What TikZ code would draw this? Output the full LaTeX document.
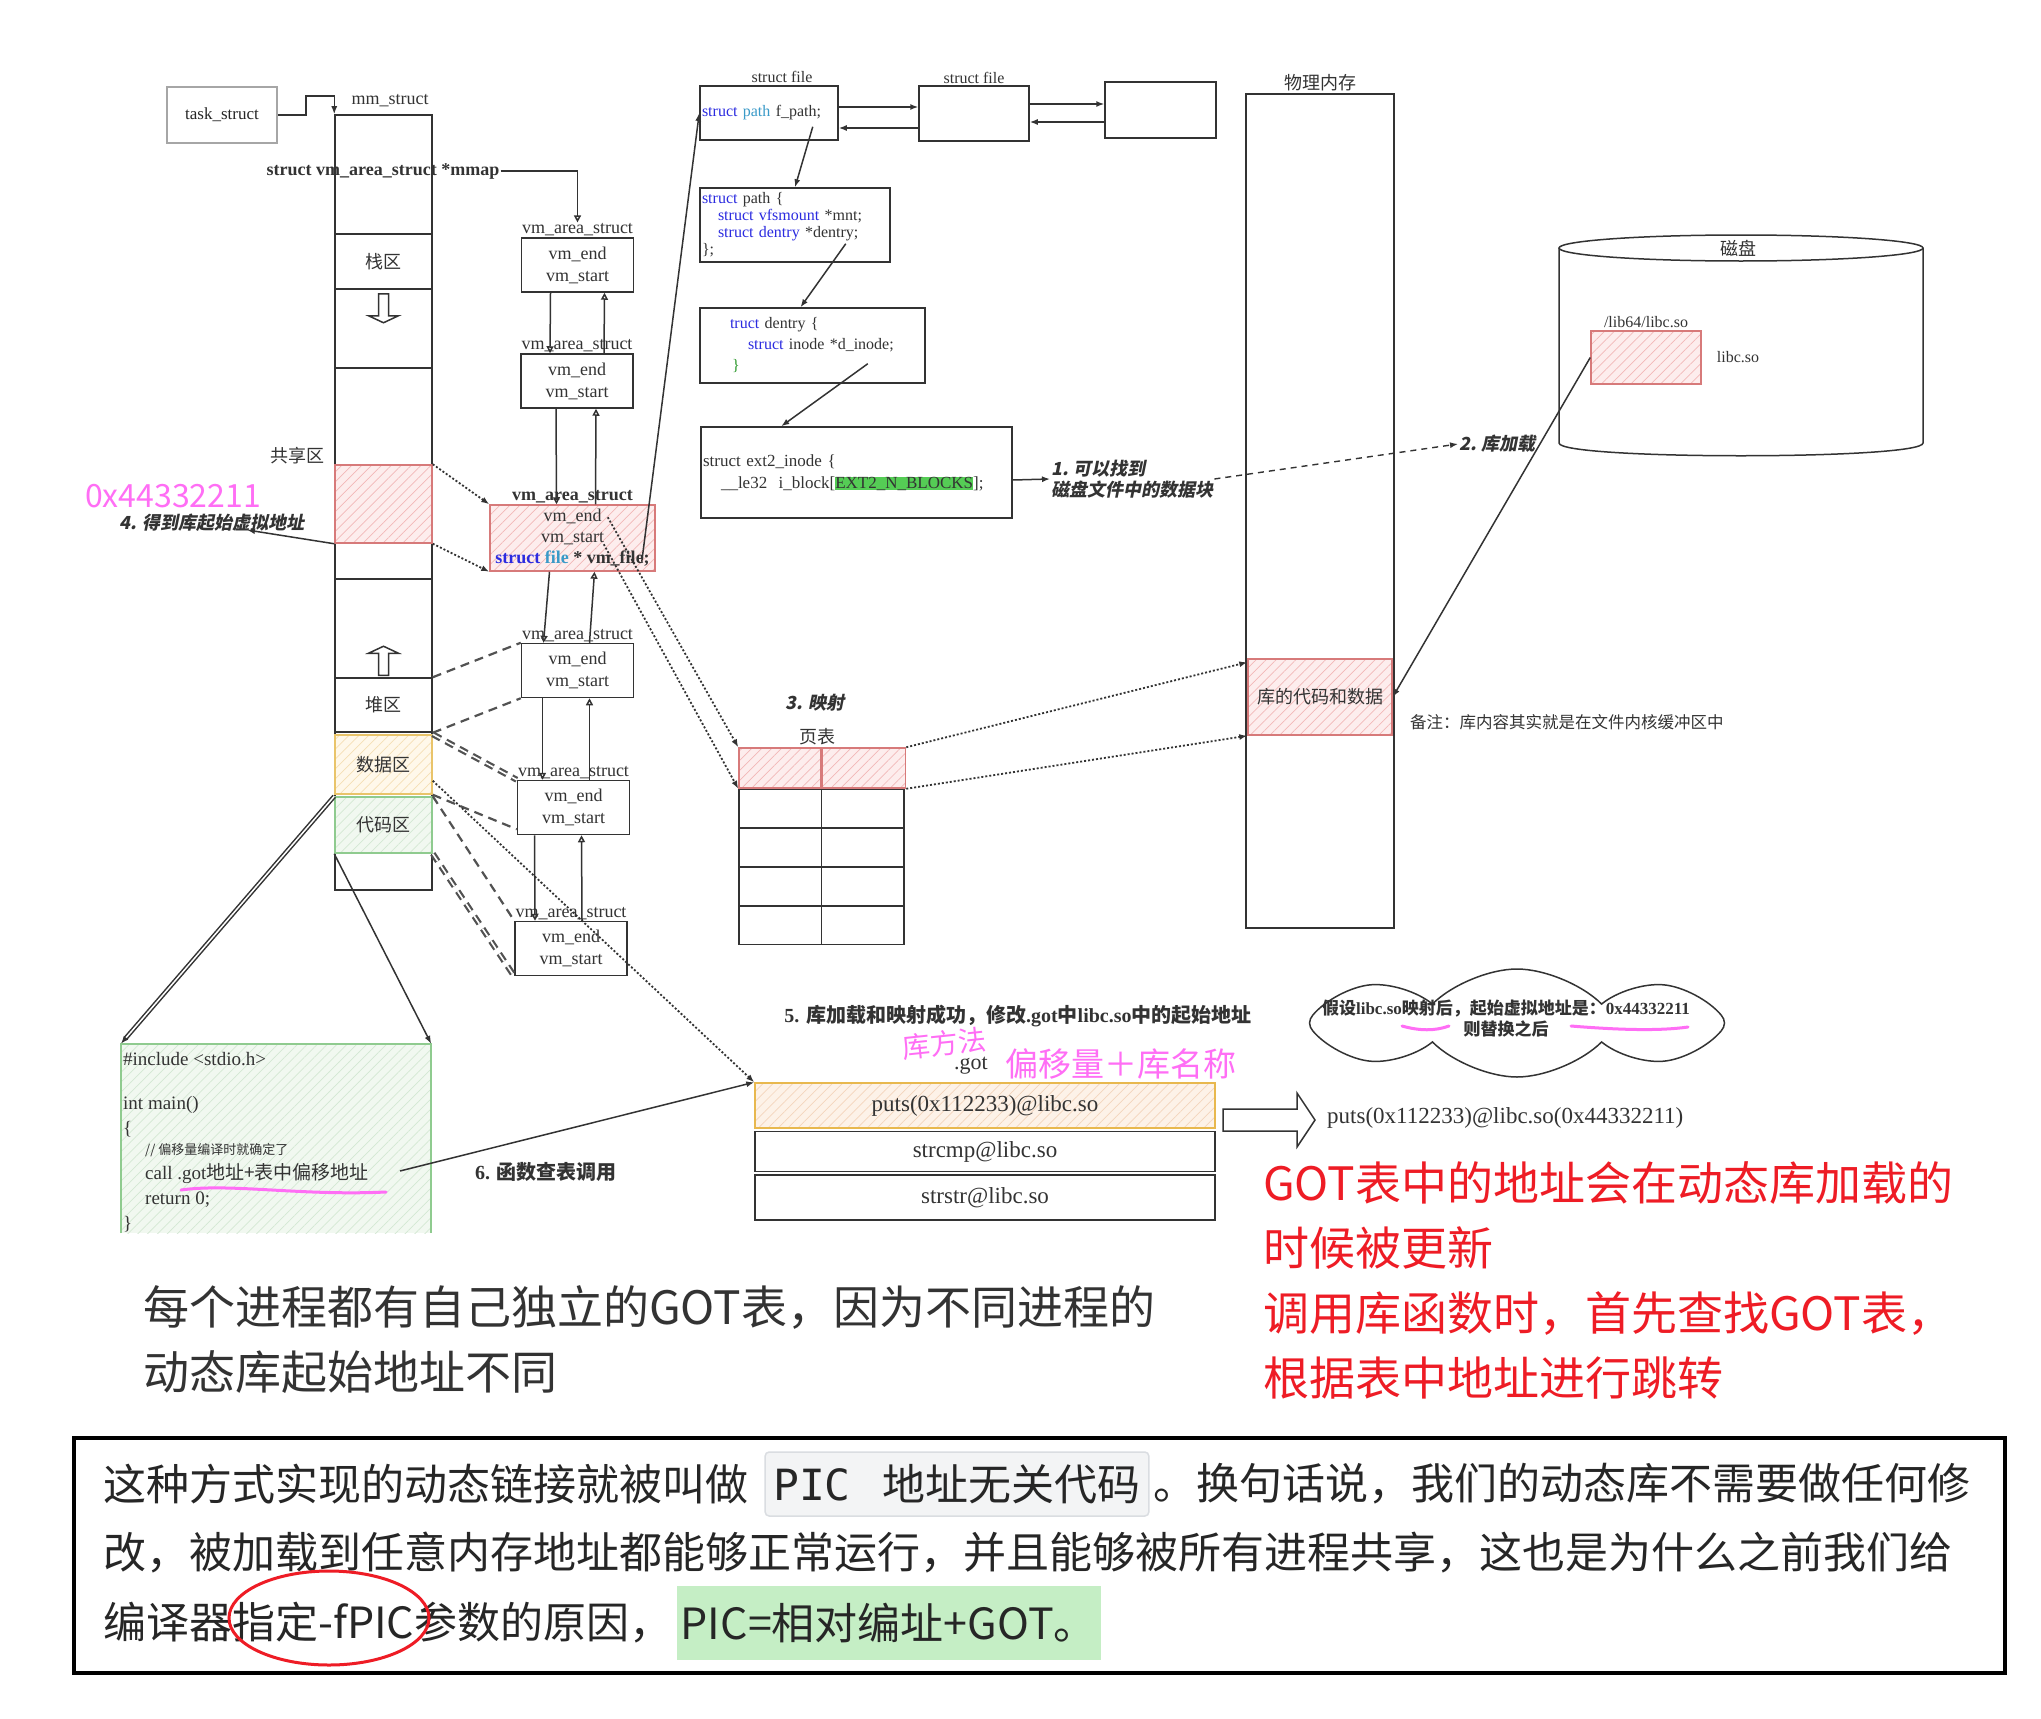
\documentclass[tikz,border=0pt]{standalone}
\usepackage{fontspec}
\usepackage{tikz}
\usetikzlibrary{arrows.meta,positioning,calc,patterns.meta,shapes.symbols}
\setmainfont{Liberation Serif}
\newfontfamily\cjk{Noto Sans CJK SC}
\newfontfamily\cjkslant{Noto Sans CJK SC}[FakeSlant=0.2]
\newfontfamily\monofont{DejaVu Sans Mono}
\newcommand\fsz[2]{\fontsize{#1}{#2}\selectfont}
\definecolor{inkline}{HTML}{333333}
\definecolor{redline}{HTML}{D77A7A}
\definecolor{redfill}{HTML}{FDEDED}
\definecolor{redhatch}{HTML}{F2B8B8}
\definecolor{yelline}{HTML}{E9C46A}
\definecolor{yelfill}{HTML}{FFF8EA}
\definecolor{yelhatch}{HTML}{F5DFB5}
\definecolor{grnline}{HTML}{8FCB8F}
\definecolor{grnfill}{HTML}{F1F8F0}
\definecolor{grnhatch}{HTML}{D3E8D3}
\definecolor{orgline}{HTML}{E8B84E}
\definecolor{orgfill}{HTML}{FDF2E8}
\definecolor{orghatch}{HTML}{F4D5BC}
\definecolor{kwblue}{HTML}{2B2BE0}
\definecolor{kwcyan}{HTML}{3A9AC8}
\definecolor{pinkpen}{HTML}{FF6EF5}
\definecolor{redpen}{HTML}{EE1C25}
\definecolor{hlgreen}{HTML}{55CC55}
\definecolor{hlpale}{HTML}{C5EEC5}
\definecolor{codebg}{HTML}{F3F4F5}
\definecolor{codeframe}{HTML}{DADDE1}
\definecolor{bracegreen}{HTML}{2E9A2E}

\begin{document}
\begin{tikzpicture}[
  x=1pt, y=-1pt,
  inkline,
  box/.style={draw=inkline, line width=1.5pt, inner sep=2pt, align=center},
  hatchfill/.style={preaction={fill=#1fill},
                    pattern={Lines[angle=45,distance=7pt,line width=0.7pt]},
                    pattern color=#1hatch},
  hatch/.style={hatchfill=#1, draw=#1line, line width=1.5pt},
  seg/.style={box, minimum width=97pt, inner sep=0pt, font=\cjk\fsz{18}{22}},
  vma/.style={box, minimum width=112pt, minimum height=54pt, font=\fsz{18}{22}},
  ttl/.style={inner sep=1pt, font=\fsz{18}{20}},
  lbl/.style={inner sep=1pt, font=\cjk\fsz{18}{22}},
  bi/.style={inner sep=1pt, align=left, font=\cjkslant\bfseries\fsz{18}{21}},
  para/.style={inner sep=0pt, text=black!85, font=\cjk\fsz{43}{48}},
  arr/.style={-{Latex[length=8pt,width=6pt]}, line width=1.5pt},
  link/.style={-{Triangle[open,length=7pt,width=7pt]}, line width=1.5pt},
  dots/.style={-{Latex[length=8pt,width=6pt]}, line width=1.8pt,
               dash pattern=on 2pt off 2pt},
  dashln/.style={line width=2.2pt, dash pattern=on 9pt off 6pt, inkline!85},
  dbldash/.style={dashln, double=white, double distance=1.6pt},
  dasharr/.style={-{Latex[length=8pt,width=6pt]}, line width=1.4pt,
                  dash pattern=on 6pt off 5pt},
  hollow/.style={draw=inkline, line width=1.5pt, fill=white},
  pen/.style={pinkpen, line width=3pt, line cap=round}
]
\fill[white] (0,0) rectangle (2041,1718);
\useasboundingbox (0,0) rectangle (2041,1718);

% ---- process address space ----
\node[box, draw=gray!70, text=gray!30!black, minimum width=110pt, minimum height=56pt,
      font=\fsz{17}{20}] (task) at (222,115) {task\_struct};
\node[box, minimum width=97pt, minimum height=775pt, inner sep=0pt] (mm) at (383.5,502.5) {};
\node[ttl] (mmlbl) at (390,101) {mm\_struct};
\node[ttl, font=\bfseries\fsz{18}{20}] (mmap) at (383,171) {struct vm\_area\_struct *mmap};

\node[seg, minimum height=55pt] (stack) at (383.5,261.5) {栈区};
\node[seg, minimum height=211pt] (shmem) at (383.5,473.5) {};
\node[seg, hatch=red, minimum height=78pt] (shared) at (383.5,504) {};
\node[lbl, anchor=east] (sharedlbl) at (326,456) {共享区};
\node[seg, minimum height=54pt] (heap) at (383.5,705) {堆区};
\node[seg, hatch=yel, minimum height=59pt] (data) at (383.5,764.5) {数据区};
\node[seg, hatch=grn, minimum height=56pt] (code) at (383.5,825) {代码区};

\node[inner sep=0pt, pinkpen, font=\cjk\fsz{32}{34}] (addr) at (173,496) {0x44332211};
\node[bi] (getaddr) at (212,523) {4. 得到库起始虚拟地址};

% stack / heap growth
\draw[hollow] ($(stack.south)+(-5,4)$) -- ++(0,22) -- ++(-10,0) -- ++(15,7)
  -- ++(15,-7) -- ++(-10,0) -- ++(0,-22) -- cycle;
\draw[hollow] ($(heap.north)+(-5,-2)$) -- ++(0,-22) -- ++(-10,0) -- ++(15,-7)
  -- ++(15,7) -- ++(-10,0) -- ++(0,22) -- cycle;

% ---- vm_area_struct chain ----
\node[vma] (vma1) at (577.5,265) {vm\_end\\vm\_start};
\node[ttl, above=0pt of vma1] (vma1t) {vm\_area\_struct};
\node[vma] (vma2) at (577,381) {vm\_end\\vm\_start};
\node[ttl, above=0pt of vma2] (vma2t) {vm\_area\_struct};
\node[vma, hatch=red, minimum width=165pt, minimum height=66pt, font=\fsz{18}{21}] (vma3) at (572.5,538)
  {vm\_end\\vm\_start\\\textbf{\color{kwblue}struct \color{kwcyan}file \color{inkline}* vm\_file;}};
\node[ttl, font=\bfseries\fsz{18}{20}, above=0pt of vma3] (vma3t) {vm\_area\_struct};
\node[vma] (vma4) at (577.5,670.5) {vm\_end\\vm\_start};
\node[ttl, above=0pt of vma4] (vma4t) {vm\_area\_struct};
\node[vma] (vma5) at (573.5,807.5) {vm\_end\\vm\_start};
\node[ttl, above=0pt of vma5] (vma5t) {vm\_area\_struct};
\node[vma] (vma6) at (571,948.5) {vm\_end\\vm\_start};
\node[ttl, above=0pt of vma6] (vma6t) {vm\_area\_struct};

% ---- file structures ----
\node[box, minimum width=138pt, minimum height=54pt, text width=134pt, align=left,
      font=\fsz{16}{18}] (sfile1) at (769,113)
  {\color{kwblue}struct \color{kwcyan}path \color{inkline}f\_path;};
\node[ttl, font=\fsz{16}{18}] (sfile1t) at (782,77) {struct file};
\node[box, minimum width=110pt, minimum height=55pt] (sfile2) at (974,113.5) {};
\node[ttl, font=\fsz{16}{18}, above=0pt of sfile2] (sfile2t) {struct file};
\node[box, minimum width=111pt, minimum height=56pt] (sfile3) at (1160.5,110) {};

\node[box, minimum width=190pt, minimum height=74pt, text width=186pt, align=left,
      font=\fsz{16}{17}] (spath) at (795,225)
  {{\color{kwblue}struct} path \{\\
   \hspace*{16pt}{\color{kwblue}struct vfsmount} *mnt;\\
   \hspace*{16pt}{\color{kwblue}struct dentry} *dentry;\\
   \};};
\node[box, minimum width=225pt, minimum height=75pt, text width=221pt, align=left,
      font=\fsz{16}{21}] (sdentry) at (812.5,345.5)
  {\hspace*{28pt}{\color{kwblue}truct} dentry \{\\
   \hspace*{46pt}{\color{kwblue}struct} inode *d\_inode;\\
   \hspace*{30pt}{\color{bracegreen}\}}};
\node[box, minimum width=311pt, minimum height=91pt, text width=307pt, align=left,
      font=\fsz{17}{22}] (sext2) at (856.5,472.5)
  {struct ext2\_inode \{\\
   \hspace*{18pt}\_\_le32\ \ i\_block[{\setlength{\fboxsep}{0pt}\colorbox{hlgreen}{EXT2\_N\_BLOCKS}}];\\[8pt]};
\node[bi, anchor=west] (find) at (1050,479) {1. 可以找到\\磁盘文件中的数据块};
\node[bi, anchor=west] (load) at (1458,444) {2. 库加载};

% ---- physical memory and disk ----
\node[box, minimum width=148pt, minimum height=834pt] (phys) at (1320,511) {};
\node[lbl, above=1pt of phys] (physlbl) {物理内存};
\node[seg, hatch=red, minimum width=144pt, minimum height=76pt] (libcode) at (1320,697) {库的代码和数据};
\node[inner sep=0pt, anchor=west, font=\cjk\fsz{16.5}{18}] (memo) at (1410,722)
  {备注：库内容其实就是在文件内核缓冲区中};

\draw[line width=1.5pt] (1741,248) ellipse [x radius=182, y radius=13];
\draw[line width=1.5pt] (1559,248) -- (1559,443)
  .. controls (1559,460) and (1923,460) .. (1923,443) -- (1923,248);
\node[lbl] (disklbl) at (1738,248) {磁盘};
\node[box, hatch=red, minimum width=110pt, minimum height=53pt] (libso) at (1646,357.5) {};
\node[ttl, font=\fsz{16}{18}, above=1pt of libso] (libpath) {/lib64/libc.so};
\node[ttl, font=\fsz{16}{18}, right=14pt of libso] (libname) {libc.so};

% ---- page table ----
\node[bi] (maplbl) at (815,703) {3. 映射};
\node[box, hatch=red, minimum width=82pt, minimum height=40pt, inner sep=0pt] (pt1) at (780,768) {};
\node[box, hatch=red, minimum width=83pt, minimum height=40pt, inner sep=0pt, right=0pt of pt1] (pt2) {};
\node[box, minimum width=165pt, minimum height=155pt, inner sep=0pt, anchor=north west] (ptbody)
  at (pt1.south west) {};
\node[lbl] (ptlbl) at (817,737) {页表};
\draw[line width=1.5pt] (ptbody.north) -- (ptbody.south);
\draw[line width=1.5pt] ($(ptbody.north west)!0.25!(ptbody.south west)$) -- ($(ptbody.north east)!0.25!(ptbody.south east)$);
\draw[line width=1.5pt] ($(ptbody.north west)!0.5!(ptbody.south west)$) -- ($(ptbody.north east)!0.5!(ptbody.south east)$);
\draw[line width=1.5pt] ($(ptbody.north west)!0.75!(ptbody.south west)$) -- ($(ptbody.north east)!0.75!(ptbody.south east)$);

% ---- .got table ----
\node[ttl, font=\bfseries\fsz{20}{22}] (fixlbl) at (1018,1016)
  {5. {\cjk 库加载和映射成功，修改}.got{\cjk 中}libc.so{\cjk 中的起始地址}};
\node[ttl, font=\fsz{22}{24}] (gotlbl) at (971,1066) {.got};
\node[inner sep=0pt, pinkpen, rotate=6, font=\cjk\fsz{28}{30}] (pinka) at (944,1043) {库方法};
\node[inner sep=0pt, pinkpen, font=\cjk\fsz{33}{35}] (pinkb) at (1121,1064) {偏移量＋库名称};
\node[box, hatch=org, minimum width=460pt, minimum height=45pt, font=\fsz{23}{25}] (got1) at (985,1105.5)
  {puts(0x112233)@libc.so};
\node[box, minimum width=460pt, minimum height=40pt, font=\fsz{23}{25}, below=2pt of got1] (got2) {strcmp@libc.so};
\node[box, minimum width=460pt, minimum height=45pt, font=\fsz{23}{25}, below=2pt of got2] (got3) {strstr@libc.so};

\node[cloud, cloud puffs=8, cloud puff arc=90, draw=inkline, line width=1.5pt,
      minimum width=415pt, minimum height=108pt, inner sep=0pt] (cloud) at (1517,1023) {};
\node[align=center, inner sep=0pt, font=\bfseries\fsz{17}{21}] (cloudtxt) at (1506,1019)
  {{\cjk 假设}libc.so{\cjk 映射后，起始虚拟地址是：}0x44332211\\{\cjk 则替换之后}};
\node[inner sep=0pt, anchor=west, font=\fsz{23}{25}] (gotres) at (1327,1118)
  {puts(0x112233)@libc.so(0x44332211)};
\draw[hollow] ($(gotres.west)+(-104,-9)$) -- ++(74,0) -- ++(0,-16) -- ++(18,27)
  -- ++(-18,27) -- ++(0,-16) -- ++(-74,0) -- cycle;

% ---- source code ----
\node[hatchfill=grn, minimum width=310pt, minimum height=189pt, inner sep=0pt] (codebox) at (276,1138.5) {};
\draw[grnline, line width=1.5pt] (codebox.south west) -- (codebox.north west)
  -- (codebox.north east) -- (codebox.south east);
\node[anchor=north west, align=left, inner sep=0pt, font=\fsz{19}{25}] (codetxt) at (123,1052)
  {\#include <stdio.h>\\[19pt]
   int main()\\
   \{\\[-5pt]
   \hspace*{22pt}{\cjk\fsz{13}{16}// 偏移量编译时就确定了}\\
   \hspace*{22pt}call .got{\cjk 地址+表中偏移地址}\\
   \hspace*{22pt}return 0;\\
   \}};
\coordinate (callend) at (400,1171);
\node[ttl, font=\bfseries\fsz{20}{22}] (calllbl) at (546,1172) {6. {\cjk 函数查表调用}};
\draw[pen] (181,1190) .. controls (230,1183) and (300,1196) .. (386,1192);
\draw[pen] (1402,1026) .. controls (1420,1031) and (1435,1031) .. (1449,1026);
\draw[pen] (1571,1026) .. controls (1620,1030) and (1660,1031) .. (1688,1027);

% ---- handwritten notes ----
\node[anchor=west, align=left, inner sep=0pt, font=\cjk\fsz{46}{65}] (bnote) at (143,1340)
  {每个进程都有自己独立的GOT表，因为不同进程的\\动态库起始地址不同};
\node[anchor=west, align=left, inner sep=0pt, redpen, font=\cjk\fsz{46}{65}] (rnote) at (1263,1280)
  {GOT表中的地址会在动态库加载的\\时候被更新\\调用库函数时，首先查找GOT表，\\根据表中地址进行跳转};

% ---- summary paragraph ----
\node[draw=black, line width=4.5pt, minimum width=1931pt, minimum height=235pt, inner sep=0pt] (summary)
  at (1039.5,1555.5) {};
\node[para, anchor=west] (l1a) at (103,1484) {这种方式实现的动态链接就被叫做};
\node[para, fill=codebg, draw=codeframe, line width=1.5pt, rounded corners=4pt, minimum height=64pt,
      inner xsep=8pt, right=16pt of l1a] (picbox) {{\monofont PIC}\hspace{32pt}地址无关代码};
\node[para, right=4pt of picbox] (l1b) {。换句话说，我们的动态库不需要做任何修};
\node[para, anchor=west] (l2) at (103,1553)
  {改，被加载到任意内存地址都能够正常运行，并且能够被所有进程共享，这也是为什么之前我们给};
\node[para, anchor=west] (l3a) at (103,1623) {编译器指定-fPIC参数的原因，};
\node[para, fill=hlpale, minimum height=74pt, inner xsep=4pt, right=4pt of l3a] (l3b) {PIC=相对编址+GOT。};
\draw[redpen, line width=3pt] (329,1618) ellipse [x radius=100, y radius=47];

% arrows
\draw[arr] (task.east) -- ++(28,0) |- ($(mm.north west)+(0,-18)$) -- (mm.north west);
\draw[link] (mmap.east) -| (vma1t.north);
\draw[link] ($(vma1.south)+(-27,0)$) -- ($(vma2.north)+(-27,0)$);
\draw[link] ($(vma2.north)+(27,0)$) -- ($(vma1.south)+(27,0)$);
\draw[link] ($(vma2.south)+(-21,0)$) -- ($(vma3.north)+(-16,0)$);
\draw[link] ($(vma3.north)+(23,0)$) -- ($(vma2.south)+(19,0)$);
\draw[link] ($(vma3.south)+(-23,0)$) -- ($(vma4.north)+(-34,0)$);
\draw[link] ($(vma4.north)+(12,0)$) -- ($(vma3.south)+(22,0)$);
\draw[link] ($(vma4.south)+(-35,0)$) -- ($(vma5.north)+(-31,0)$);
\draw[link] ($(vma5.north)+(16,0)$) -- ($(vma4.south)+(12,0)$);
\draw[link] ($(vma5.south)+(-39,0)$) -- ($(vma6.north)+(-36,0)$);
\draw[link] ($(vma6.north)+(11,0)$) -- ($(vma5.south)+(8,0)$);

\draw[arr] (shared.south west) -- ($(getaddr.south)+(35,-3)$);
\draw[dots] (shared.north east) -- (vma3.north west);
\draw[dots] (shared.south east) -- (vma3.south west);
\draw[dashln] (heap.north east) -- (vma4.north west);
\draw[dashln] (heap.south east) -- (vma4.south west);
\draw[dbldash] (data.north east) -- (vma5.north west);
\draw[dashln] (data.south east) -- ($(vma5.south west)+(0,-6)$);
\draw[dashln] (code.north east) -- (vma6.north west);
\draw[dbldash] (code.south east) -- (vma6.south west);

\draw[arr] ($(vma3.south east)+(-14,-10)$) -- (sfile1.west);
\draw[arr] ($(sfile1.east)+(0,-6)$) -- ($(sfile2.west)+(0,-6.5)$);
\draw[arr] ($(sfile2.west)+(0,14.5)$) -- ($(sfile1.east)+(0,15)$);
\draw[arr] ($(sfile2.east)+(0,-9.5)$) -- ($(sfile3.west)+(0,-6)$);
\draw[arr] ($(sfile3.west)+(0,12)$) -- ($(sfile2.east)+(0,8.5)$);
\draw[arr] ($(sfile1.south east)+(-26,-14)$) -- (spath.north);
\draw[arr] ($(spath.south east)+(-45,-19)$) -- ($(sdentry.north)+(-12,0)$);
\draw[arr] ($(sdentry.south east)+(-58,-20)$) -- ($(sext2.north west)+(81,0)$);
\draw[arr] ($(sext2.east)+(0,7.5)$) -- (find.west);
\draw[dasharr] (find.east) -- (load.west);
\draw[arr] (libso.west) -- (libcode.east);

\draw[dots] ($(vma3.north east)+(-48,13)$) -- (pt1.north west);
\draw[dots] ($(vma3.north east)+(-52,40)$) -- (pt1.south west);
\draw[dots] (pt2.north east) -- ($(libcode.north west)+(0,4)$);
\draw[dots] (pt2.south east) -- (libcode.south west);

\draw[arr, double, double distance=1.5pt] (code.north west) -- (codebox.north west);
\draw[arr] (code.south west) -- (codebox.north east);
\draw[dots] ($(data.south east)+(0,-14)$) -- (got1.north west);
\draw[arr] (callend) -- (got1.north west);
\end{tikzpicture}
\end{document}
